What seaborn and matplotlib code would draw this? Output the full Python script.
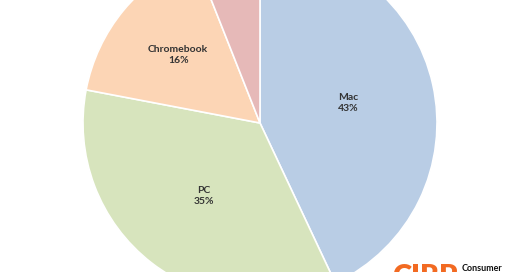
import matplotlib
matplotlib.use("Agg")
import matplotlib.pyplot as plt
import seaborn as sns
import numpy as np

sns.set_theme(style="white")
plt.rcParams['font.family'] = ['Lato', 'DejaVu Sans']

categories = ["Mac", "PC", "Chromebook", "Other"]
shares = [43, 35, 16, 6]
show_name = [True, True, True, False]
colors = ["#b9cde5", "#d7e4bd", "#fcd5b5", "#e6b9b8"]
label_dist = [0.51, 0.52, 0.60, 0.74]

W, H = 520, 272
R = 177.0
cx, cy = 260.0, 123.0  # pixel centre (from top)

fig = plt.figure(figsize=(W / 100, H / 100), dpi=100)
ax = fig.add_axes([0, 0, 1, 1])
wedges, _ = ax.pie(shares, colors=colors, startangle=90, counterclock=False,
                   radius=1.0, wedgeprops=dict(edgecolor="white", linewidth=1.2))
ax.set_xlim(-cx / R, (W - cx) / R)
ax.set_ylim(-(H - cy) / R, cy / R)
ax.set_aspect("equal")
ax.axis("off")

for w, name, val, show, d in zip(wedges, categories, shares, show_name, label_dist):
    ang = np.deg2rad((w.theta1 + w.theta2) / 2)
    x, y = d * np.cos(ang), d * np.sin(ang)
    txt = f"{name}\n{val}%" if show else f"{val}%"
    ax.text(x, y, txt, ha="center", va="center", fontsize=7.5,
            fontweight="bold", color="#333333", linespacing=1.25)

fig.text(392 / W, 1 - 264 / H, "CIRP", ha="left", va="top", fontsize=21,
         fontweight="heavy", color="#f26a22")
fig.text(462 / W, 1 - 264 / H, "Consumer", ha="left", va="top", fontsize=6.5,
         fontweight="bold", color="#111111")

fig.savefig("out.png", dpi=100, facecolor="white")
